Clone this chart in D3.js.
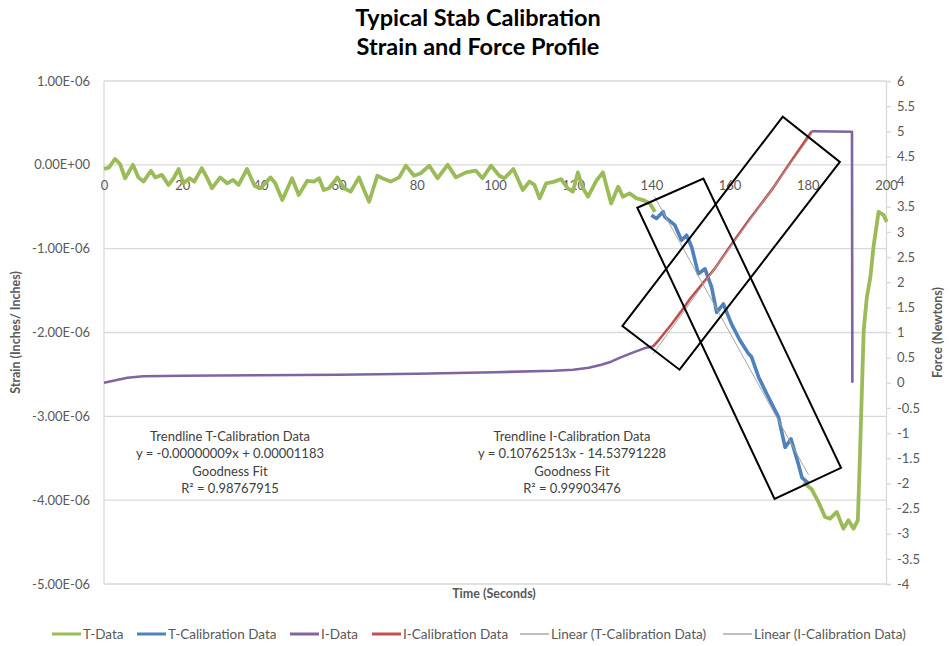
<!DOCTYPE html>
<html>
<head>
<meta charset="utf-8">
<script src="https://cdn.jsdelivr.net/npm/d3@7/dist/d3.min.js"></script>
<style>
  html, body { margin: 0; padding: 0; background: #fff; }
  svg { display: block; font-family: Lato, "Open Sans", sans-serif; }
</style>
</head>
<body>
<svg id="chart" width="951" height="646"></svg>
<script>
// ---------------- DATA ----------------
const titleLines = ["Typical Stab Calibration", "Strain and Force Profile"];

const xTicks = [0, 20, 40, 60, 80, 100, 120, 140, 160, 180, 200];
const leftTickValues = [1e-6, 0, -1e-6, -2e-6, -3e-6, -4e-6, -5e-6];
const leftTickLabels = ["1.00E-06", "0.00E+00", "-1.00E-06", "-2.00E-06", "-3.00E-06", "-4.00E-06", "-5.00E-06"];
const rightTickValues = [6, 5.5, 5, 4.5, 4, 3.5, 3, 2.5, 2, 1.5, 1, 0.5, 0, -0.5, -1, -1.5, -2, -2.5, -3, -3.5, -4];

// T-Data (strain, inches/inch) – [time s, strain x1e-6]; null marks gap under calibration segment
const tData = [
  [0,-0.05],[1.3,-0.03],[2.8,0.07],[4.1,0.01],[5.4,-0.16],[7.4,0],[8.8,-0.15],[10.1,-0.2],
  [12,-0.07],[13.1,-0.15],[14.8,-0.12],[16.5,-0.24],[17.8,-0.16],[19.1,-0.05],[20.3,-0.22],
  [21.9,-0.16],[23.1,-0.2],[25,-0.04],[26.3,-0.15],[27.6,-0.28],[29.7,-0.15],[31.5,-0.22],
  [33,-0.18],[34.4,-0.24],[36.6,-0.05],[38.5,-0.25],[40,-0.28],[42.6,-0.15],[43.8,-0.22],
  [45.6,-0.42],[48.1,-0.16],[49.8,-0.36],[52,-0.19],[53.7,-0.2],[55,-0.16],[56.2,-0.3],
  [57.5,-0.28],[59.7,-0.15],[61.4,-0.28],[63.1,-0.32],[65.2,-0.15],[66.5,-0.3],[67.8,-0.44],
  [69.9,-0.13],[71.2,-0.16],[73.3,-0.2],[75.5,-0.15],[77.2,-0.01],[79.3,-0.13],[81,-0.1],
  [83.2,-0.01],[85.3,-0.16],[87.9,0],[90,-0.15],[92.6,-0.09],[95.1,-0.07],[96.8,-0.16],
  [99,-0.01],[101.1,-0.13],[102.4,-0.16],[104.7,-0.05],[107.1,-0.3],[108.8,-0.2],[110.1,-0.24],
  [111.4,-0.4],[113.1,-0.22],[115.2,-0.2],[116.9,-0.17],[118.6,-0.28],[119.9,-0.32],[121.2,-0.09],
  [122.5,-0.28],[123.8,-0.38],[125.9,-0.19],[127.6,-0.09],[129.7,-0.46],[131.5,-0.26],[132.7,-0.38],
  [134.4,-0.34],[136.2,-0.4],[137.9,-0.42],[139.6,-0.46],[140.9,-0.56],
  null,
  [178.9,-3.79],[181,-3.87],[182.7,-4.02],[184.4,-4.2],[185.7,-4.22],[187.4,-4.14],[189.1,-4.34],
  [190.4,-4.24],[191.7,-4.34],[192.8,-4.24],[193.4,-3.37],[194.3,-1.97],[195.1,-1.58],[196,-1.34],
  [196.8,-0.98],[198.1,-0.56],[199.4,-0.6],[200.2,-0.68]
];

// T-Calibration Data (strain x1e-6)
const tCalData = [
  [140,-0.6],[141.3,-0.64],[143,-0.56],[143.4,-0.62],[146,-0.72],[147.7,-0.9],[149,-0.84],
  [150.3,-0.98],[152,-1.3],[153.7,-1.24],[155.4,-1.46],[156.7,-1.76],[158.4,-1.66],[160.5,-1.9],
  [162.6,-2.09],[164.8,-2.25],[165.6,-2.29],[167.4,-2.53],[169.9,-2.77],[172.5,-3.01],[174.2,-3.37],
  [175.7,-3.27],[177.6,-3.57],[178.5,-3.73],[180.2,-3.8]
];

// I-Data (force, newtons)
const iData = [
  [0,0],[3,0.05],[6,0.1],[10,0.13],[20,0.14],[40,0.15],[60,0.16],[80,0.18],[100,0.21],
  [115,0.24],[120,0.26],[124,0.3],[127.2,0.36],[129.7,0.42],[132,0.5],[134.9,0.59],[138.3,0.69],
  [140.4,0.72],
  null,
  [181,5.0],[191.3,4.99],[191.4,0]
];

// I-Calibration Data (force, newtons)
const iCalData = [
  [140.4,0.72],[142,0.86],[145,1.15],[147.7,1.43],[150,1.68],[156.2,2.27],[160,2.7],
  [164.8,3.22],[170.8,3.84],[175,4.32],[181,5.0]
];

// Linear trendlines (endpoints)
const trendT = [[140.8,-0.38],[180.2,-3.7]];   // strain x1e-6
const trendI = [[140.4,0.57],[181,4.94]];      // force

// Annotation texts
const annotT = ["Trendline T-Calibration Data", "y = -0.00000009x  + 0.00001183", "Goodness Fit", "R² = 0.98767915"];
const annotI = ["Trendline I-Calibration Data", "y = 0.10762513x - 14.53791228", "Goodness Fit", "R² = 0.99903476"];

// Highlight boxes: corners in [time, force]
const boxT = [[136.4,3.48],[153.3,4.06],[188.5,-1.69],[171.5,-2.31]];
const boxI = [[132.6,1.13],[173.6,5.29],[188.2,4.39],[147.2,0.26]];

const legendItems = [
  {name:"T-Data", color:"#9BBB59"},
  {name:"T-Calibration Data", color:"#4F81BD"},
  {name:"I-Data", color:"#8064A2"},
  {name:"I-Calibration Data", color:"#C0504D"},
  {name:"Linear (T-Calibration Data)", color:"#BFBFBF"},
  {name:"Linear (I-Calibration Data)", color:"#BFBFBF"}
];

// ---------------- CHART ----------------
const svg = d3.select("#chart");
const pLeft = 104, pRight = 886, pTop = 81, pBottom = 584;

const x = d3.scaleLinear().domain([0, 200]).range([pLeft, pRight]);
const yL = d3.scaleLinear().domain([-5e-6, 1e-6]).range([pBottom, pTop]);
const yR = d3.scaleLinear().domain([-4, 6]).range([pBottom, pTop]);

const labelColor = "#595959";

// title
svg.append("g").selectAll("text").data(titleLines).join("text")
  .attr("x", 478).attr("y", (d, i) => 26 + i * 29)
  .attr("text-anchor", "middle")
  .attr("font-size", 23.5).attr("font-weight", "bold").attr("fill", "#000")
  .text(d => d);

// gridlines
svg.append("g").selectAll("line").data(leftTickValues).join("line")
  .attr("x1", pLeft).attr("x2", pRight)
  .attr("y1", d => yL(d)).attr("y2", d => yL(d))
  .attr("stroke", "#D9D9D9").attr("stroke-width", 1.3);

// left axis line
svg.append("line").attr("x1", pLeft).attr("x2", pLeft).attr("y1", pTop).attr("y2", pBottom)
  .attr("stroke", "#D9D9D9").attr("stroke-width", 1.3);

// right axis
const rAxis = svg.append("g").attr("transform", `translate(${pRight},0)`)
  .call(d3.axisRight(yR).tickValues(rightTickValues).tickSize(5).tickPadding(6).tickFormat(d => String(d)));
rAxis.select(".domain").attr("stroke", "#D9D9D9").attr("stroke-width", 1.3);
rAxis.selectAll(".tick line").attr("stroke", "#D9D9D9").attr("stroke-width", 1.3);
rAxis.selectAll("text").attr("fill", labelColor).attr("font-size", 13).attr("font-family", "Lato, sans-serif");

// left axis labels
svg.append("g").selectAll("text").data(leftTickValues).join("text")
  .attr("x", 90).attr("y", d => yL(d)).attr("dy", "0.35em")
  .attr("text-anchor", "end").attr("fill", labelColor).attr("font-size", 13)
  .text((d, i) => leftTickLabels[i]);

// x axis labels (axis crosses at strain 0)
const xAxis = svg.append("g").attr("transform", `translate(0,${yL(0)})`)
  .call(d3.axisBottom(x).tickValues(xTicks).tickSize(0).tickPadding(16).tickFormat(d => String(d)));
xAxis.select(".domain").remove();
xAxis.selectAll("text").attr("fill", labelColor).attr("font-size", 13).attr("font-family", "Lato, sans-serif");

// axis titles
svg.append("text").attr("transform", `translate(20,${(pTop + pBottom) / 2}) rotate(-90)`)
  .attr("text-anchor", "middle").attr("font-size", 12.5).attr("font-weight", "bold").attr("fill", labelColor)
  .text("Strain (Inches/ Inches)");
svg.append("text").attr("transform", `translate(942,${(pTop + pBottom) / 2}) rotate(-90)`)
  .attr("text-anchor", "middle").attr("font-size", 12.5).attr("font-weight", "bold").attr("fill", labelColor)
  .text("Force (Newtons)");
svg.append("text").attr("x", 494).attr("y", 598)
  .attr("text-anchor", "middle").attr("font-size", 12.5).attr("font-weight", "bold").attr("fill", labelColor)
  .text("Time (Seconds)");

// series
const lineL = d3.line().defined(d => d !== null).x(d => x(d[0])).y(d => yL(d[1] * 1e-6));
const lineR = d3.line().defined(d => d !== null).x(d => x(d[0])).y(d => yR(d[1]));

const plot = svg.append("g");
plot.append("path").datum(tData).attr("d", lineL).attr("fill", "none")
  .attr("stroke", "#9BBB59").attr("stroke-width", 3.8).attr("stroke-linejoin", "round");
plot.append("path").datum(tCalData).attr("d", lineL).attr("fill", "none")
  .attr("stroke", "#4F81BD").attr("stroke-width", 3.6).attr("stroke-linejoin", "round");
plot.append("path").datum(iData).attr("d", lineR).attr("fill", "none")
  .attr("stroke", "#8064A2").attr("stroke-width", 2.6).attr("stroke-linejoin", "round");
plot.append("path").datum(iCalData).attr("d", lineR).attr("fill", "none")
  .attr("stroke", "#C0504D").attr("stroke-width", 2.6).attr("stroke-linejoin", "round");
plot.append("path").datum(trendT).attr("d", lineL).attr("fill", "none")
  .attr("stroke", "#A6A6A6").attr("stroke-width", 1);
plot.append("path").datum(trendI).attr("d", lineR).attr("fill", "none")
  .attr("stroke", "#A6A6A6").attr("stroke-width", 1);

// annotations
function annot(lines, cx) {
  svg.append("g").selectAll("text").data(lines).join("text")
    .attr("x", cx).attr("y", (d, i) => 441 + i * 17.3)
    .attr("text-anchor", "middle").attr("font-size", 13).attr("fill", "#404040")
    .text(d => d);
}
annot(annotT, 230);
annot(annotI, 572);

// highlight boxes
const boxLine = d3.line().x(d => x(d[0])).y(d => yR(d[1])).curve(d3.curveLinearClosed);
[boxT, boxI].forEach(b => {
  svg.append("path").datum(b).attr("d", boxLine).attr("fill", "none")
    .attr("stroke", "#000").attr("stroke-width", 2);
});

// legend
const legendX = [52, 137, 290, 372, 520, 723];
const lg = svg.append("g");
legendItems.forEach((it, i) => {
  const g = lg.append("g").attr("transform", `translate(${legendX[i]},634)`);
  g.append("line").attr("x1", 0).attr("x2", 29).attr("stroke", it.color).attr("stroke-width", it.color === "#BFBFBF" ? 2 : 3);
  g.append("text").attr("x", 31).attr("dy", "0.35em").attr("font-size", 13.5).attr("fill", labelColor).text(it.name);
});
</script>
</body>
</html>
